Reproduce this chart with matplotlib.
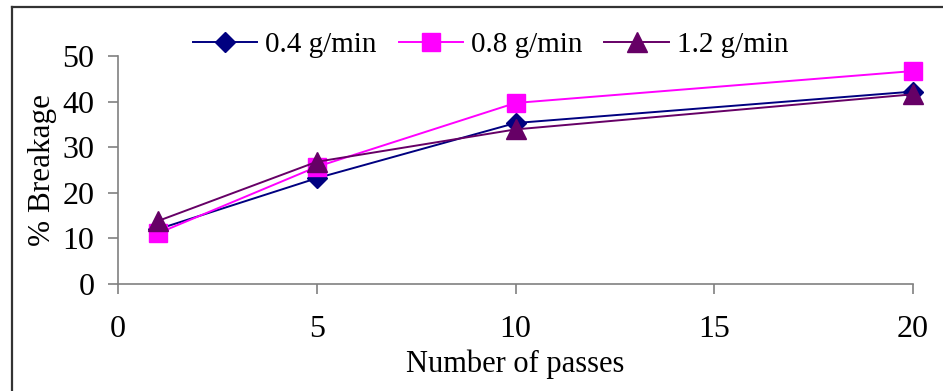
import matplotlib.pyplot as plt
from matplotlib.lines import Line2D

plt.rcParams['font.family'] = ['Liberation Serif', 'DejaVu Serif']

passes = [1, 5, 10, 20]
rate_04 = [12.0, 23.2, 35.3, 42.2]
rate_08 = [11.1, 25.7, 39.7, 46.7]
rate_12 = [13.8, 26.8, 33.9, 41.6]

fig = plt.figure(figsize=(9.43, 3.91), dpi=100)
ax = fig.add_axes([118/943, 1 - 284/391, (913 - 118)/943, (284 - 56)/391])

ax.plot(passes, rate_04, color='#000080', lw=1.4, marker='D', ms=10, label='0.4 g/min', clip_on=False)
ax.plot(passes, rate_08, color='#FF00FF', lw=1.4, marker='s', ms=13, label='0.8 g/min', clip_on=False)
ax.plot(passes, rate_12, color='#660066', lw=1.4, marker='^', ms=14, label='1.2 g/min', clip_on=False)

ax.set_xlim(0, 20)
ax.set_ylim(0, 50)
ax.set_xticks([0, 5, 10, 15, 20])
ax.set_yticks([0, 10, 20, 30, 40, 50])
for s in ['top', 'right']:
    ax.spines[s].set_visible(False)
for s in ['left', 'bottom']:
    ax.spines[s].set_color('#808080')
    ax.spines[s].set_linewidth(1.2)
ax.tick_params(axis='x', direction='out', length=7, width=1.2, color='#808080', pad=15, labelsize=23)
ax.tick_params(axis='y', direction='out', length=7, width=1.2, color='#808080', pad=10, labelsize=23)

ax.set_xlabel('Number of passes', fontsize=22, labelpad=4)
ax.set_ylabel('% Breakage', fontsize=22.5, labelpad=4)

ax.legend(loc='upper left', bbox_to_anchor=(193/943, 1 - 32/391), bbox_transform=fig.transFigure,
          ncol=3, frameon=False, fontsize=21, handlelength=2.2, handletextpad=0.28,
          columnspacing=0.75, borderaxespad=0, borderpad=0)

# outer frame (left and top edges visible)
fig.add_artist(Line2D([12/943, 12/943], [0, 1 - 7/391], transform=fig.transFigure, color='#333333', lw=1.6))
fig.add_artist(Line2D([12/943, 1], [1 - 7/391, 1 - 7/391], transform=fig.transFigure, color='#333333', lw=1.6))

fig.savefig('out.png', dpi=100)
